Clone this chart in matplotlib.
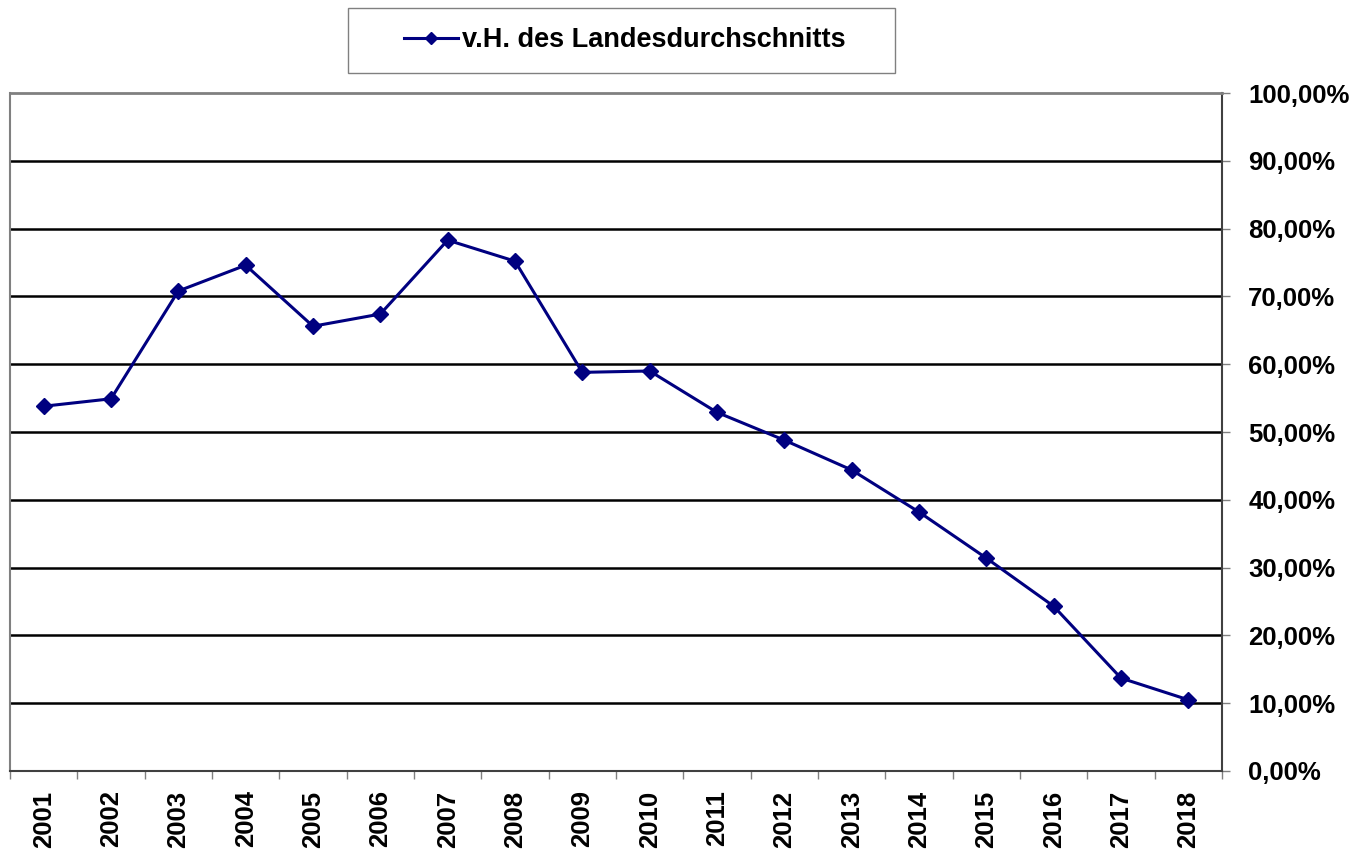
import matplotlib
matplotlib.use("Agg")
import matplotlib.pyplot as plt
import matplotlib.patches as patches
import matplotlib.ticker as ticker

plt.rcParams.update({
    "font.family": ["Liberation Sans", "DejaVu Sans"],
    "font.weight": "bold",
})

# ── data ──────────────────────────────────────────────────────────────────────
years = [2001, 2002, 2003, 2004, 2005, 2006, 2007, 2008, 2009,
         2010, 2011, 2012, 2013, 2014, 2015, 2016, 2017, 2018]
share = [53.8, 54.9, 70.8, 74.6, 65.6, 67.4, 78.3, 75.2, 58.8,
         59.0, 52.9, 48.8, 44.4, 38.2, 31.4, 24.3, 13.7, 10.5]
label = "v.H. des Landesdurchschnitts"

NAVY = "#000080"
FS = 18.5

fig = plt.figure(figsize=(13.69, 8.52), dpi=100)
ax = fig.add_axes([0.0073, 0.0951, 0.8853, 0.7957])

x = list(range(len(years)))
line, = ax.plot(x, share, color=NAVY, linewidth=2.2,
                marker="D", markersize=8.5, markerfacecolor=NAVY,
                markeredgecolor=NAVY, label=label, zorder=3)

# axes limits / grid
ax.set_xlim(-0.5, len(years) - 0.5)
ax.set_ylim(0, 100)
ax.yaxis.set_major_locator(ticker.MultipleLocator(10))
ax.yaxis.set_major_formatter(
    ticker.FuncFormatter(lambda v, _: f"{v:.2f}%".replace(".", ",")))
ax.yaxis.tick_right()
for v in range(10, 100, 10):
    ax.axhline(v, color="black", linewidth=1.8, zorder=1)

# category axis: ticks between categories, labels centred
ax.set_xticks([i - 0.5 for i in range(len(years) + 1)])
ax.set_xticklabels([])
ax.set_xticks(x, minor=True)
ax.set_xticklabels([str(y) for y in years], minor=True, rotation=90,
                   fontsize=FS, fontweight="bold")
ax.tick_params(axis="x", which="major", direction="out", length=6,
               width=1, color="#808080")
ax.tick_params(axis="x", which="minor", length=0, pad=14)
ax.tick_params(axis="y", direction="out", length=6, width=1,
               color="#808080", labelsize=FS, pad=13)
for lbl in ax.get_yticklabels():
    lbl.set_fontweight("bold")

ax.spines["left"].set_color("#808080")
ax.spines["top"].set_color("#808080")
ax.spines["top"].set_linewidth(2)
ax.spines["left"].set_linewidth(1.5)
ax.spines["right"].set_color("#404040")
ax.spines["right"].set_linewidth(1.5)
ax.spines["bottom"].set_color("#404040")
ax.spines["bottom"].set_linewidth(1.5)

# legend box above the plot
fig.patches.append(patches.Rectangle(
    (348 / 1369, 1 - 73 / 852), (895 - 348) / 1369, 65 / 852,
    transform=fig.transFigure, facecolor="white", edgecolor="#808080",
    linewidth=1))
fig.legend(handles=[line], loc="center", bbox_to_anchor=(0.4565, 0.9525),
           frameon=False, handlelength=2.0, handletextpad=0.15,
           markerscale=0.75, prop={"weight": "bold", "size": 19.5})

fig.savefig("out.png", dpi=100)
